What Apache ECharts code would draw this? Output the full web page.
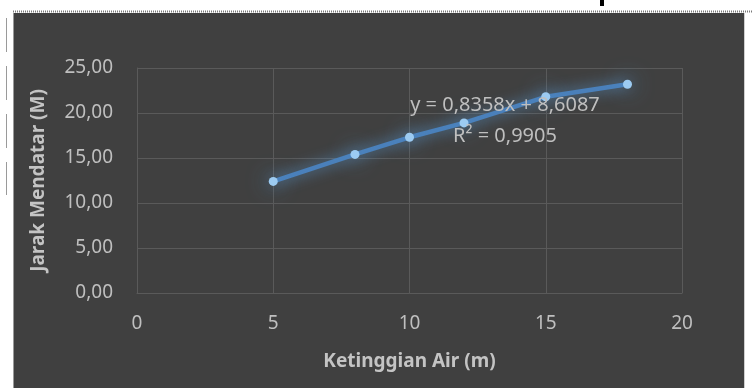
<!DOCTYPE html>
<html>
<head>
<meta charset="utf-8">
<script src="https://cdn.jsdelivr.net/npm/echarts@6/dist/echarts.min.js"></script>
<style>
  html, body { margin: 0; padding: 0; background: #ffffff; }
  #chart { width: 753px; height: 388px; }
</style>
</head>
<body>
<div id="chart"></div>
<script>
// Measured horizontal distance against water height
const heights = [5, 8, 10, 12, 15, 18];
const distances = [12.4, 15.4, 17.3, 18.9, 21.8, 23.2];

// Linear trend reported for the measurements
const slope = 0.8358;
const intercept = 8.6087;
const rSquared = 0.9905;

const xTicks = [0, 5, 10, 15, 20];
const yTicks = [0, 5, 10, 15, 20, 25];

const fmt = (v, d) => v.toFixed(d).replace('.', ',');

const points = heights.map((h, i) => [h, distances[i]]);

const textColor = '#bfbfbf';
const font = 'Noto Sans';

const chart = echarts.init(document.getElementById('chart'), null, { renderer: 'canvas' });
chart.setOption({
  backgroundColor: '#ffffff',
  animation: false,
  graphic: [
    // dark chart panel
    { type: 'rect', z: -10, shape: { x: 14, y: 13, width: 730, height: 380 }, style: { fill: '#404040' } },
    { type: 'line', z: -9, shape: { x1: 13.5, y1: 13, x2: 13.5, y2: 388 }, style: { stroke: '#9a9a9a', lineWidth: 1 } },
    { type: 'line', z: -9, shape: { x1: 744.5, y1: 13, x2: 744.5, y2: 388 }, style: { stroke: '#cfcfcf', lineWidth: 1 } },
    { type: 'line', z: -9, shape: { x1: 13, y1: 11.5, x2: 753, y2: 11.5 }, style: { stroke: '#7a7a7a', lineWidth: 2, lineDash: [1, 1] } },
    { type: 'line', z: -9, shape: { x1: 6.5, y1: 18, x2: 6.5, y2: 195 }, style: { stroke: '#9a9a9a', lineWidth: 1, lineDash: [34, 14] } },
    { type: 'rect', z: -9, shape: { x: 600, y: 0, width: 4, height: 6 }, style: { fill: '#000000' } },
    // trend equation
    { type: 'text', z: 10, x: 505, y: 105, style: { text: 'y = ' + fmt(slope, 4) + 'x + ' + fmt(intercept, 4), fill: textColor, font: '20px "Noto Sans"', align: 'center', verticalAlign: 'middle' } },
    { type: 'text', z: 10, x: 505, y: 136, style: { text: 'R² = ' + fmt(rSquared, 4), fill: textColor, font: '20px "Noto Sans"', align: 'center', verticalAlign: 'middle' } }
  ],
  grid: { left: 137, right: 71, top: 68, bottom: 95 },
  xAxis: {
    type: 'value', min: xTicks[0], max: xTicks[xTicks.length - 1], interval: 5,
    name: 'Ketinggian Air (m)', nameLocation: 'middle', nameGap: 59,
    nameTextStyle: { color: '#c4c4c4', fontFamily: font, fontSize: 19, fontWeight: 'bold' },
    axisLine: { show: true, lineStyle: { color: '#5a5a5a' } },
    axisTick: { show: false },
    splitLine: { show: true, lineStyle: { color: '#5a5a5a', width: 1 } },
    axisLabel: { color: textColor, fontFamily: font, fontSize: 19, margin: 21 }
  },
  yAxis: {
    type: 'value', min: yTicks[0], max: yTicks[yTicks.length - 1], interval: 5,
    name: 'Jarak Mendatar (M)', nameLocation: 'middle', nameGap: 89,
    nameTextStyle: { color: '#c4c4c4', fontFamily: font, fontSize: 19, fontWeight: 'bold' },
    axisLine: { show: true, lineStyle: { color: '#5a5a5a' } },
    axisTick: { show: false },
    splitLine: { show: true, lineStyle: { color: '#5a5a5a', width: 1 } },
    axisLabel: { color: textColor, fontFamily: font, fontSize: 19, margin: 24, formatter: v => fmt(v, 2) }
  },
  series: [
    {
      type: 'line', data: points, z: 3,
      symbol: 'circle', symbolSize: 9,
      lineStyle: { color: '#4a80bb', width: 4.5, shadowColor: 'rgba(91,155,213,0.9)', shadowBlur: 14 },
      itemStyle: { color: '#9ccbf2', borderWidth: 0, shadowColor: 'rgba(91,155,213,1)', shadowBlur: 22 }
    }
  ]
});
</script>
</body>
</html>
